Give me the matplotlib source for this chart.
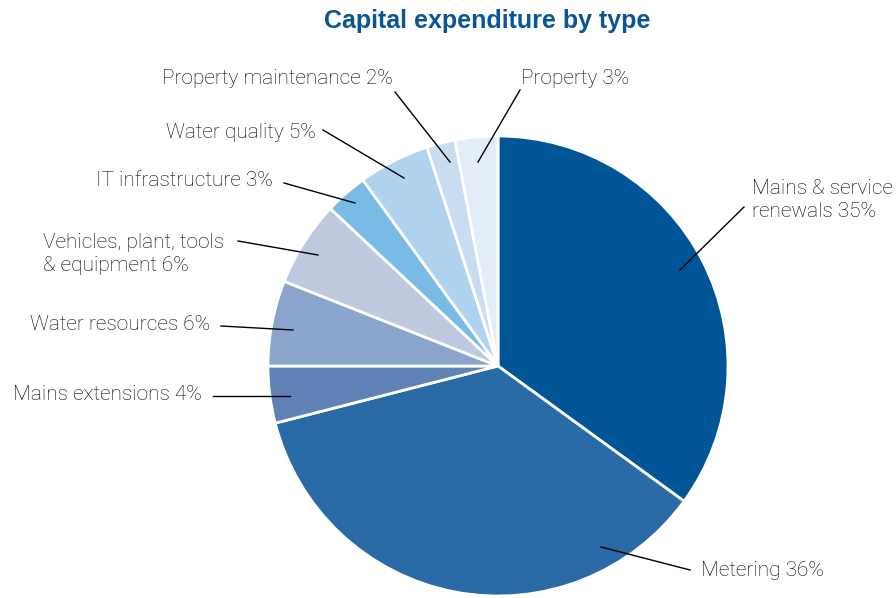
import matplotlib
matplotlib.use("Agg")
import matplotlib.pyplot as plt

# Data
categories = ["Mains & service\nrenewals", "Metering", "Mains extensions", "Water resources",
              "Vehicles, plant, tools\n& equipment", "IT infrastructure", "Water quality",
              "Property maintenance", "Property"]
values = [35, 36, 4, 6, 6, 3, 5, 2, 3]
colors = ["#005596", "#2a6aa6", "#5f83b6", "#8aa4cb", "#bec9e0", "#7abbe6", "#afd3ee",
          "#c9ddf2", "#e2edf8"]

W, H = 896, 598
fig = plt.figure(figsize=(W / 100, H / 100), dpi=100)
ax = fig.add_axes([0, 0, 1, 1])

cx, cy, R = 498, 366, 230
ax.pie(values, colors=colors, startangle=90, counterclock=False, center=(cx, H - cy),
       radius=R, wedgeprops=dict(edgecolor="white", linewidth=2), frame=True)
ax.set_xlim(0, W)
ax.set_ylim(0, H)
ax.set_aspect("equal")
ax.axis("off")

def P(x, y):
    return (x, H - y)

font = dict(family=["Roboto", "DejaVu Sans"], fontweight="light", fontsize=15, color="#000000")

# layout: (text x, text y, ha, line start, line end)
layout = [
    (752, 200, "left", (680, 270), (744, 207)),
    (701, 571, "left", (601, 547), (690, 570)),
    (202, 395, "right", (290, 396), (213, 396)),
    (210, 324, "right", (293, 330), (221, 326)),
    (43, 254, "left", (318, 255), (238, 241)),
    (273, 180, "right", (355, 203), (284, 183)),
    (316, 132, "right", (404, 178), (323, 130)),
    (393, 78, "right", (450, 162), (395, 92)),
    (521, 78, "left", (478, 162), (520, 90)),
]

for cat, v, (tx, ty, ha, s, e) in zip(categories, values, layout):
    ax.text(*P(tx, ty), f"{cat} {v}%", ha=ha, va="center", linespacing=1.25, **font)
    ax.plot([P(*s)[0], P(*e)[0]], [P(*s)[1], P(*e)[1]], color="black", lw=1)

ax.text(*P(487, 21), "Capital expenditure by type", ha="center", va="center",
        fontsize=18, fontweight="bold", color="#0a5596", family=["Liberation Sans", "DejaVu Sans"])

fig.savefig("out.png", dpi=100)
